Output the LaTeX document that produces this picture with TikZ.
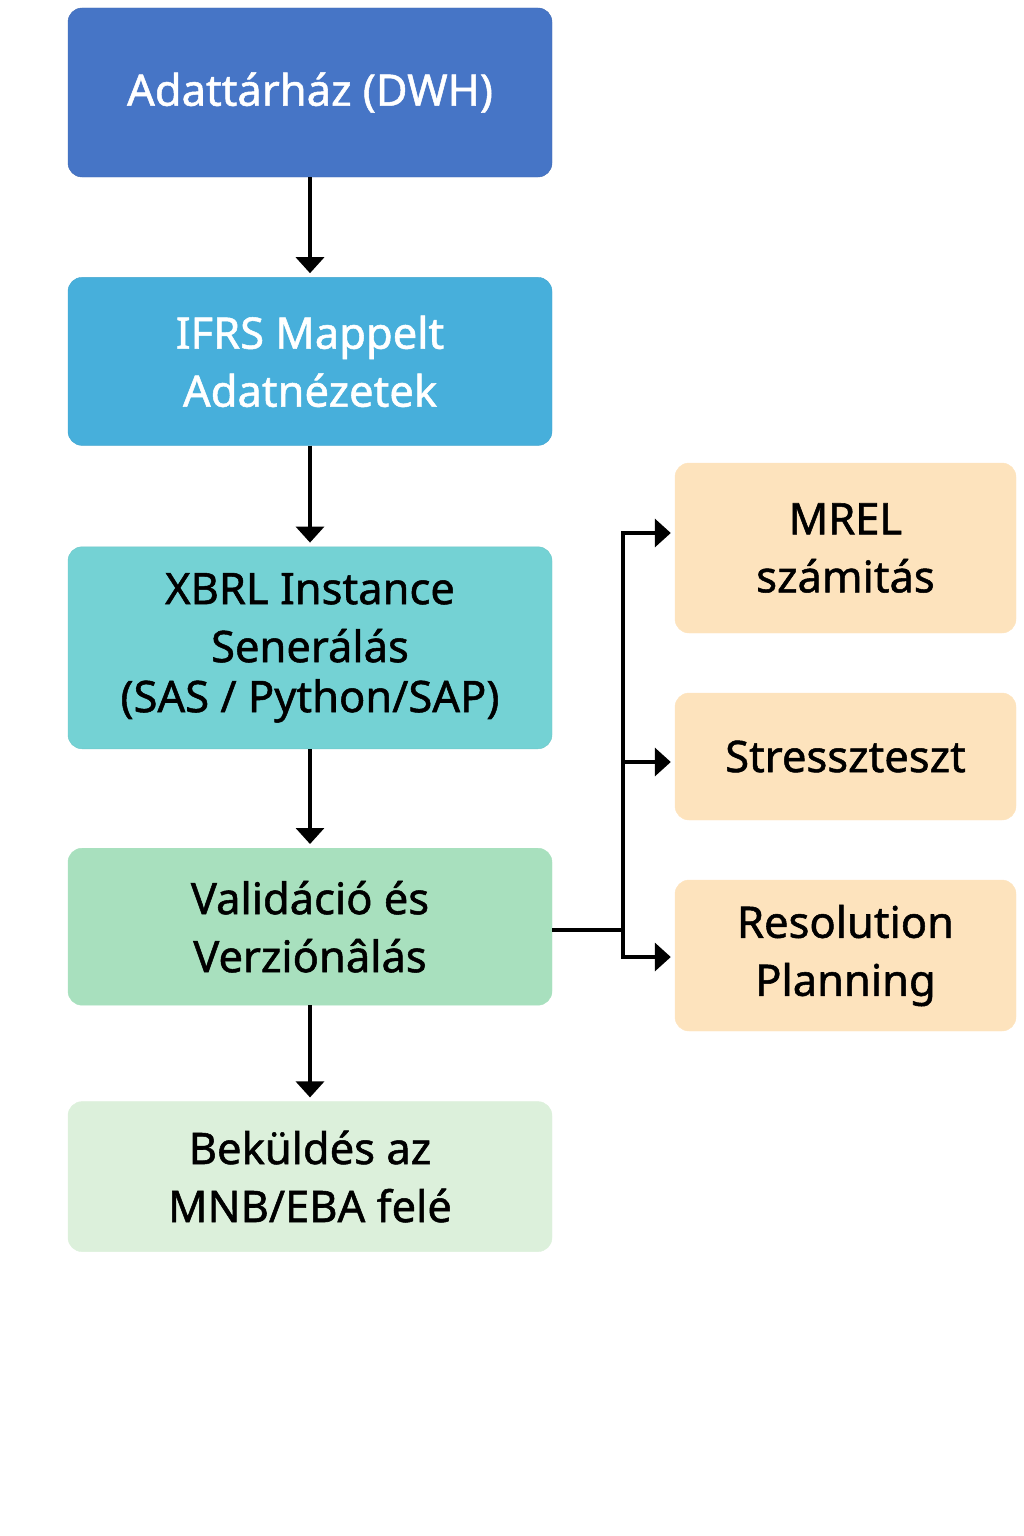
\documentclass[tikz,border=0pt]{standalone}
\usepackage{fontspec}
\setmainfont{Noto Sans}
\newfontfamily\boxfont{Noto Sans}[FakeBold=1.2]
\usepackage{tikz}
\usetikzlibrary{positioning, calc, arrows.meta}
\definecolor{dwhblue}{RGB}{70, 117, 198}
\definecolor{ifrsblue}{RGB}{71, 175, 219}
\definecolor{xbrlteal}{RGB}{116, 210, 212}
\definecolor{validgreen}{RGB}{168, 224, 190}
\definecolor{sendgreen}{RGB}{220, 240, 219}
\definecolor{sideorange}{RGB}{253, 227, 189}
\tikzset{
    stagebox/.style={
        rounded corners=14pt, minimum width=484pt, align=center,
        inner sep=0pt, font=\boxfont\fontsize{43.5}{58}\selectfont
    },
    sidebox/.style={
        stagebox, minimum width=341pt, fill=sideorange, draw=sideorange
    },
    flowarrow/.style={
        -{Triangle[length=16pt, width=28pt]}, line width=3.5pt, black,
        shorten >=4pt
    }
}

\begin{document}
\begin{tikzpicture}[x=1pt, y=-1pt]
    \useasboundingbox (0,0) rectangle (1024,1536);

    % Hauptstrang
    \node[stagebox, fill=dwhblue, draw=dwhblue!90!black, text=white,
          minimum height=169pt] (dwh) at (310,92.5) {Adattárház (DWH)};
    \node[stagebox, fill=ifrsblue, draw=ifrsblue!95!black, text=white,
          minimum height=168pt, below=100pt of dwh] (ifrs) {IFRS Mappelt\\Adatnézetek};
    \node[stagebox, fill=xbrlteal, draw=xbrlteal!95!black,
          minimum height=202pt, below=101pt of ifrs] (xbrl) {XBRL Instance\\Senerálás\\[-8pt](SAS / Python/SAP)};
    \node[stagebox, fill=validgreen, draw=validgreen,
          minimum height=157pt, below=99pt of xbrl] (valid) {Validáció és\\Verziónâlás};
    \node[stagebox, fill=sendgreen, draw=sendgreen,
          minimum height=150pt, below=96pt of valid] (send) {Beküldés az\\MNB/EBA felé};

    % Mellékágak
    \node[sidebox, minimum height=170pt] (mrel) at (845.5,548) {MREL\\számitás};
    \node[sidebox, minimum height=127pt] (stress) at (845.5,756.5) {Stresszteszt};
    \node[sidebox, minimum height=151pt] (resol) at (845.5,955.5) {Resolution\\Planning};

    % Nyilak
    \draw[flowarrow] (dwh) -- (ifrs);
    \draw[flowarrow] (ifrs) -- (xbrl);
    \draw[flowarrow] (xbrl) -- (valid);
    \draw[flowarrow] (valid) -- (send);

    \coordinate (split) at (623,930);
    \coordinate (top) at (623,533);
    \coordinate (mid) at (623,762);
    \coordinate (low) at (623,957);
    \draw[line width=3.5pt] (valid.east |- split) -- (split);
    \draw[line width=3.5pt, line cap=rect] (low) -- (top);
    \draw[flowarrow] (top) -- (top -| mrel.west);
    \draw[flowarrow] (mid) -- (mid -| stress.west);
    \draw[flowarrow] (low) -- (low -| resol.west);
\end{tikzpicture}
\end{document}
